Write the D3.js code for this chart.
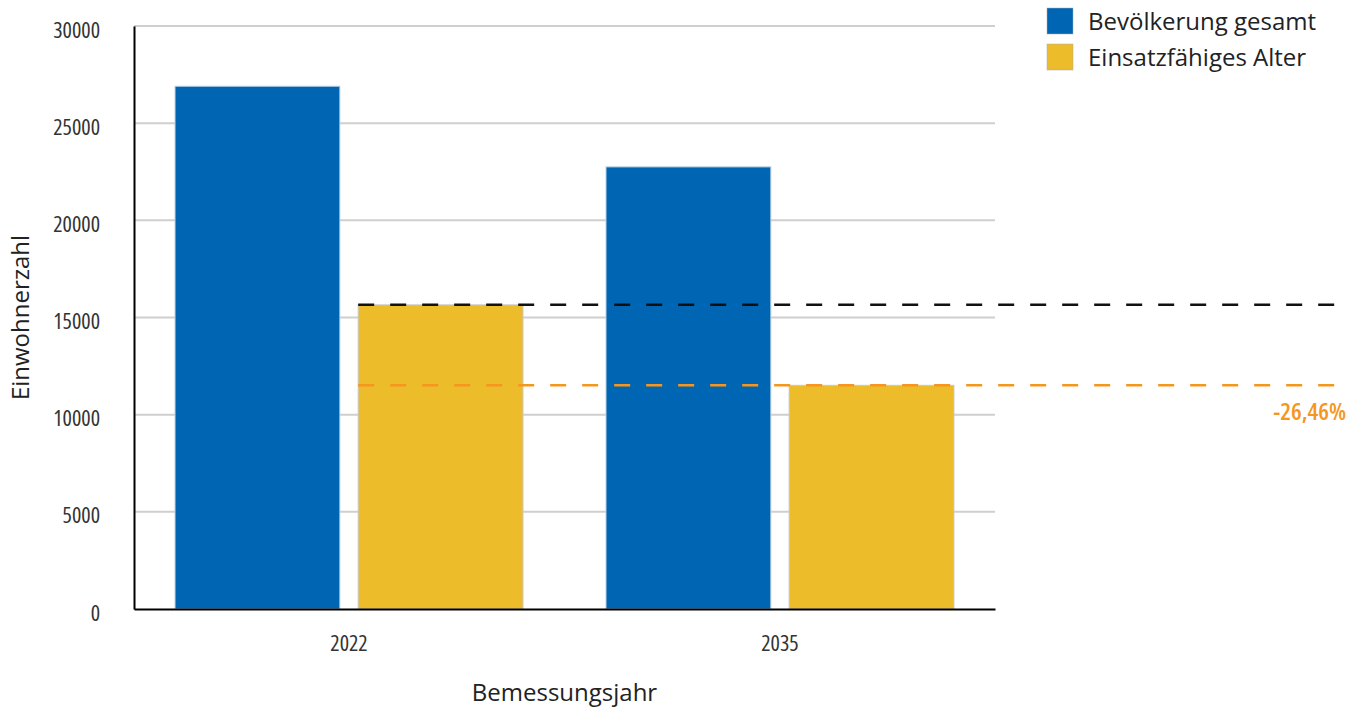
<!DOCTYPE html>
<html>
<head>
<meta charset="utf-8">
<script src="https://cdn.jsdelivr.net/npm/d3@7"></script>
<style>
  body { margin: 0; background: #fff; }
  svg { display: block; }
  .tick text { font-family: "Open Sans", sans-serif; font-stretch: condensed; }
</style>
</head>
<body>
<div id="chart"></div>
<script>
// data
const years = ["2022", "2035"];
const seriesNames = ["Bevölkerung gesamt", "Einsatzfähiges Alter"];
const totalPop = [26900, 22750];
const workingAge = [15650, 11510];
const yTicks = [0, 5000, 10000, 15000, 20000, 25000, 30000];
const changeLabel = "-26,46%";

const colors = ["#0066b3", "#ecbc2b"];
const width = 1362, height = 708;
const margin = { top: 26, right: 367, bottom: 99, left: 134 };

const svg = d3.select("#chart").append("svg")
  .attr("width", width)
  .attr("height", height);

const x0 = d3.scaleBand()
  .domain(years)
  .range([margin.left, width - margin.right])
  .paddingInner(0.1926)
  .paddingOuter(0.0952);

const x1 = d3.scaleBand()
  .domain([0, 1])
  .range([0, x0.bandwidth()])
  .paddingInner(0.1);

const y = d3.scaleLinear()
  .domain([0, 30000])
  .range([height - margin.bottom, margin.top]);

// gridlines
svg.append("g")
  .selectAll("line")
  .data(yTicks.filter(d => d > 0))
  .enter()
  .append("line")
  .attr("x1", margin.left)
  .attr("x2", width - margin.right)
  .attr("y1", d => y(d))
  .attr("y2", d => y(d))
  .attr("stroke", "#cfcfcf")
  .attr("stroke-width", 2);

// bars
const rows = years.map((yr, i) => ({ year: yr, values: [totalPop[i], workingAge[i]] }));
const groups = svg.selectAll(".grp")
  .data(rows)
  .enter()
  .append("g")
  .attr("transform", d => `translate(${x0(d.year)},0)`);

groups.selectAll("rect")
  .data(d => d.values.map((v, k) => ({ k, v })))
  .enter()
  .append("rect")
  .attr("x", d => x1(d.k))
  .attr("y", d => y(d.v))
  .attr("width", x1.bandwidth())
  .attr("height", d => y(0) - y(d.v))
  .attr("fill", d => colors[d.k])
  .attr("stroke", d => d.k === 1 ? "#c8c8c8" : "#b9cfe6")
  .attr("stroke-width", 1);

// reference lines
const lineStart = x0(years[0]) + x1(1);
const lineEnd = 1337;
svg.append("line")
  .attr("x1", lineStart).attr("x2", lineEnd)
  .attr("y1", y(workingAge[0])).attr("y2", y(workingAge[0]))
  .attr("stroke", "#111").attr("stroke-width", 2.5)
  .attr("stroke-dasharray", "16,16");

svg.append("line")
  .attr("x1", lineStart).attr("x2", lineEnd)
  .attr("y1", y(workingAge[1])).attr("y2", y(workingAge[1]))
  .attr("stroke", "#f5961e").attr("stroke-width", 2.5)
  .attr("stroke-dasharray", "16,16");

svg.append("text")
  .attr("x", 1346)
  .attr("y", y(workingAge[1]) + 35)
  .attr("text-anchor", "end")
  .style("font-family", "'Open Sans', sans-serif")
  .style("font-stretch", "condensed")
  .style("font-size", "24px")
  .style("font-weight", "600")
  .style("fill", "#f5961e")
  .text(changeLabel);

// axes
const yAxis = svg.append("g")
  .attr("transform", `translate(${margin.left},0)`)
  .call(d3.axisLeft(y).tickValues(yTicks).tickFormat(d3.format("d")).tickSize(0).tickPadding(34));
yAxis.select(".domain").attr("stroke", "#000").attr("stroke-width", 2);
yAxis.selectAll("text").attr("dy", "0.5em").style("font-size", "22px").style("fill", "#333");

const xAxis = svg.append("g")
  .attr("transform", `translate(0,${y(0)})`)
  .call(d3.axisBottom(x0).tickSize(0).tickPadding(26));
xAxis.select(".domain").attr("stroke", "#000").attr("stroke-width", 2);
xAxis.selectAll("text").style("font-size", "22px").style("fill", "#333");

// axis titles
svg.append("text")
  .attr("transform", `translate(29,${(margin.top + y(0)) / 2}) rotate(-90)`)
  .attr("text-anchor", "middle")
  .style("font-family", "'Open Sans', sans-serif")
  .style("font-size", "24px")
  .style("fill", "#222")
  .text("Einwohnerzahl");

svg.append("text")
  .attr("x", (margin.left + width - margin.right) / 2)
  .attr("y", 701)
  .attr("text-anchor", "middle")
  .style("font-family", "'Open Sans', sans-serif")
  .style("font-size", "24px")
  .style("fill", "#222")
  .text("Bemessungsjahr");

// legend
const legend = svg.append("g").attr("transform", "translate(1047,8)");
const items = legend.selectAll("g")
  .data(seriesNames)
  .enter()
  .append("g")
  .attr("transform", (d, i) => `translate(0,${i * 36})`);
items.append("rect")
  .attr("width", 26).attr("height", 26)
  .attr("fill", (d, i) => colors[i])
  .attr("stroke", "#aaa").attr("stroke-width", 0.5);
items.append("text")
  .attr("x", 41).attr("y", 22)
  .style("font-family", "'Open Sans', sans-serif")
  .style("font-size", "24px")
  .style("fill", "#222")
  .text(d => d);
</script>
</body>
</html>
